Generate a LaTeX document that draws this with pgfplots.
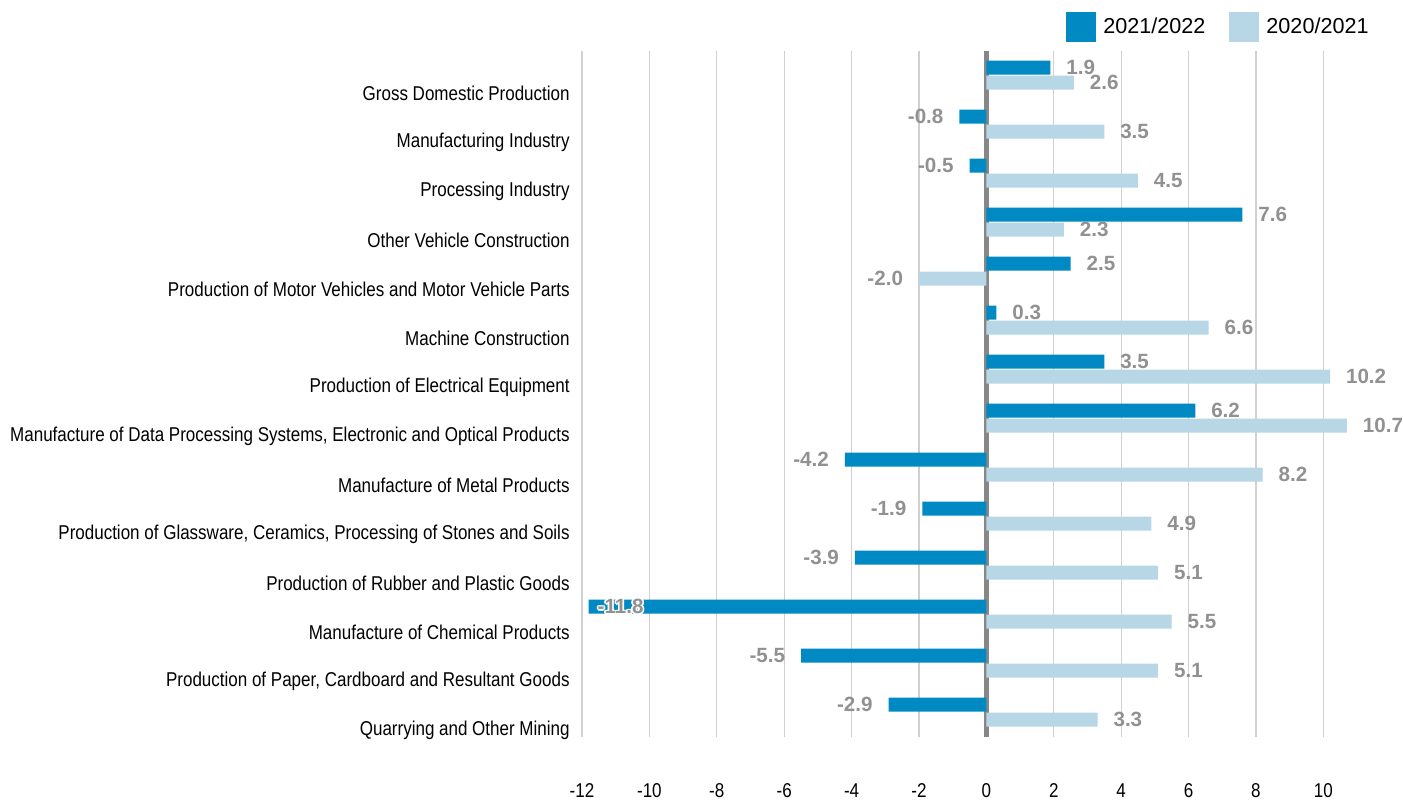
\documentclass[border=0pt]{standalone}
\usepackage{pgfplots}
\pgfplotsset{compat=1.18}
\usepackage{fontspec}
\setmainfont{Liberation Sans}
\newfontfamily\narrow{Liberation Sans}[FakeStretch=0.85]
\definecolor{dark}{RGB}{0,137,194}
\definecolor{light}{RGB}{183,214,230}
\definecolor{lab}{RGB}{145,145,145}
\definecolor{gridc}{RGB}{208,208,208}
\definecolor{zeroc}{RGB}{135,135,135}
\newcommand\wh[3]{\makebox[0pt][l]{\hspace*{#1}\raisebox{#2}{\color{white}#3}}}
\newcommand\halo[1]{\wh{0.8pt}{0pt}{#1}\wh{-0.8pt}{0pt}{#1}\wh{0pt}{0.8pt}{#1}\wh{0pt}{-0.8pt}{#1}\wh{0.6pt}{0.6pt}{#1}\wh{-0.6pt}{0.6pt}{#1}\wh{0.6pt}{-0.6pt}{#1}\wh{-0.6pt}{-0.6pt}{#1}#1}
\newcommand\R[1]{\makebox[0pt][l]{\hspace*{8pt}#1}}
\newcommand\Lf[1]{\makebox[0pt][r]{#1\hspace*{8pt}}}
\newcommand\inlabel{\makebox[0pt][l]{\hspace*{4.5pt}\halo{-11.8}}}
\begin{document}
\begin{tikzpicture}
\useasboundingbox (0,0) rectangle (701.5pt,399.5pt);
\begin{axis}[
  at={(291pt,31pt)}, anchor=south west,
  scale only axis, width=404.35pt, height=343pt,
  xbar, bar width=7pt,
  xmin=-12, xmax=12, ymin=-0.14, ymax=13.86,
  xtick={-12,-10,...,10},
  ytick={0,...,13},
  yticklabels={{Quarrying and Other Mining},
    {Production of Paper, Cardboard and Resultant Goods},
    {Manufacture of Chemical Products},
    {Production of Rubber and Plastic Goods},
    {Production of Glassware, Ceramics, Processing of Stones and Soils},
    {Manufacture of Metal Products},
    {Manufacture of Data Processing Systems, Electronic and Optical Products},
    {Production of Electrical Equipment},
    {Machine Construction},
    {Production of Motor Vehicles and Motor Vehicle Parts},
    {Other Vehicle Construction},
    {Processing Industry},
    {Manufacturing Industry},
    {Gross Domestic Production}},
  axis line style={draw=none}, major tick length=0pt,
  xmajorgrids, grid style={gridc, line width=0.6pt},
  extra x ticks={0}, extra x tick labels={},
  extra x tick style={grid style={zeroc, line width=2.2pt}},
  /pgf/number format/assume math mode=true,
  xticklabel style={font=\narrow\fontsize{10}{12}\selectfont, inner sep=0pt, yshift=-23pt},
  yticklabel style={font=\narrow\fontsize{10}{12}\selectfont, inner sep=0pt, xshift=-6pt},
  point meta=explicit symbolic,
  nodes near coords=\pgfplotspointmeta,
  nodes near coords style={font=\bfseries\fontsize{10.3}{12}\selectfont, text=lab, anchor=center, inner sep=0pt},
  legend columns=2,
  legend style={draw=none, fill=none, at={(0.9818,1.035)}, anchor=east, inner sep=0pt,
    font=\fontsize{10.8}{12}\selectfont,
    /tikz/every even column/.append style={column sep=8.5pt},
    nodes={inner xsep=3.5pt, inner ysep=0pt}},
  legend cell align=left,
  legend image code/.code={\fill[#1] (0pt,-7.5pt) rectangle (15pt,7.5pt);},
]
\addplot[fill=dark, draw=none, bar shift=12.75pt] coordinates {
  (1.9,13) [\R{1.9}]
  (-0.8,12) [\Lf{-0.8}]
  (-0.5,11) [\Lf{-0.5}]
  (7.6,10) [\R{7.6}]
  (2.5,9) [\R{2.5}]
  (0.3,8) [\R{0.3}]
  (3.5,7) [\R{3.5}]
  (6.2,6) [\R{6.2}]
  (-4.2,5) [\Lf{-4.2}]
  (-1.9,4) [\Lf{-1.9}]
  (-3.9,3) [\Lf{-3.9}]
  (-11.8,2) [\inlabel]
  (-5.5,1) [\Lf{-5.5}]
  (-2.9,0) [\Lf{-2.9}]
};
\addplot[fill=light, draw=none, bar shift=5.25pt] coordinates {
  (2.6,13) [\R{2.6}]
  (3.5,12) [\R{3.5}]
  (4.5,11) [\R{4.5}]
  (2.3,10) [\R{2.3}]
  (-2.0,9) [\Lf{-2.0}]
  (6.6,8) [\R{6.6}]
  (10.2,7) [\R{10.2}]
  (10.7,6) [\R{10.7}]
  (8.2,5) [\R{8.2}]
  (4.9,4) [\R{4.9}]
  (5.1,3) [\R{5.1}]
  (5.5,2) [\R{5.5}]
  (5.1,1) [\R{5.1}]
  (3.3,0) [\R{3.3}]
};
\legend{2021/2022, 2020/2021}
\end{axis}
\end{tikzpicture}
\end{document}
